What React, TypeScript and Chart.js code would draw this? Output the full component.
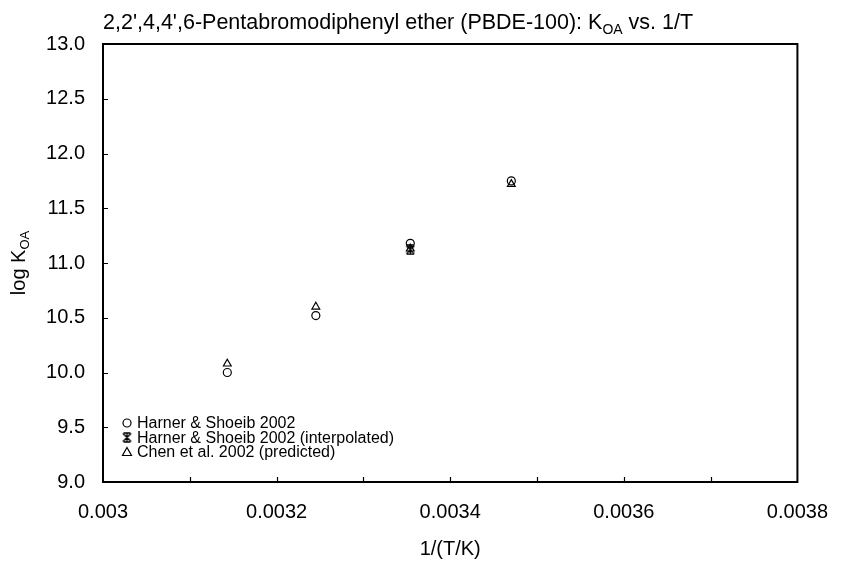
import React, { useEffect, useRef } from "react";
import { Chart, registerables } from "chart.js";

Chart.register(...registerables);

// ---- Data ----
const invT = [0.0031432, 0.0032452, 0.003354, 0.0034704];
const harnerLogKoa = [10.0, 10.52, 11.18, 11.75];
const interpInvT = [0.003354];
const interpLogKoa = [11.12];
const chenLogKoa = [10.08, 10.6, 11.13, 11.72];

const seriesNames = [
  "Harner & Shoeib 2002",
  "Harner & Shoeib 2002 (interpolated)",
  "Chen et al. 2002 (predicted)",
];

const xMin = 0.003;
const xMax = 0.0038;
const xStep = 0.0002;
const xMinorStep = 0.0001;
const yMin = 9.0;
const yMax = 13.0;
const yStep = 0.5;

const FONT = "'Liberation Sans', Arial, sans-serif";

function makeAsterisk(): HTMLCanvasElement {
  const c = document.createElement("canvas");
  c.width = 11;
  c.height = 11;
  const g = c.getContext("2d")!;
  g.strokeStyle = "#000";
  g.lineWidth = 1.4;
  g.beginPath();
  g.moveTo(1.5, 1.5);
  g.lineTo(9.5, 9.5);
  g.moveTo(9.5, 1.5);
  g.lineTo(1.5, 9.5);
  g.moveTo(5.5, 0.5);
  g.lineTo(5.5, 10.5);
  g.moveTo(2, 1);
  g.lineTo(9, 1);
  g.moveTo(2, 10);
  g.lineTo(9, 10);
  g.stroke();
  return c;
}

function drawMarker(ctx: CanvasRenderingContext2D, kind: number, x: number, y: number, ast: HTMLCanvasElement) {
  ctx.save();
  ctx.strokeStyle = "#000";
  ctx.lineWidth = 1.2;
  if (kind === 0) {
    ctx.beginPath();
    ctx.arc(x, y, 4, 0, Math.PI * 2);
    ctx.stroke();
  } else if (kind === 1) {
    ctx.drawImage(ast, x - ast.width / 2, y - ast.height / 2);
  } else {
    ctx.beginPath();
    ctx.moveTo(x, y - 4.5);
    ctx.lineTo(x + 4.5, y + 3.5);
    ctx.lineTo(x - 4.5, y + 3.5);
    ctx.closePath();
    ctx.stroke();
  }
  ctx.restore();
}

function drawSubText(
  ctx: CanvasRenderingContext2D,
  parts: { t: string; sub?: boolean }[],
  x: number,
  y: number,
  size: number,
  align: "left" | "center"
) {
  const subSize = Math.round(size * 0.66);
  let total = 0;
  const widths = parts.map((p) => {
    ctx.font = `${p.sub ? subSize : size}px ${FONT}`;
    const w = ctx.measureText(p.t).width;
    total += w;
    return w;
  });
  let cx = align === "center" ? x - total / 2 : x;
  parts.forEach((p, i) => {
    ctx.font = `${p.sub ? subSize : size}px ${FONT}`;
    ctx.fillText(p.t, cx, p.sub ? y + size * 0.22 : y);
    cx += widths[i];
  });
}

export default function App() {
  const ref = useRef<HTMLCanvasElement>(null);

  useEffect(() => {
    if (!ref.current) return;
    const ast = makeAsterisk();

    const decorPlugin = {
      id: "decor",
      afterDraw(chart: any) {
        const ctx: CanvasRenderingContext2D = chart.ctx;
        const a = chart.chartArea;
        const xs = chart.scales.x;
        const ys = chart.scales.y;
        ctx.save();
        // frame
        ctx.strokeStyle = "#000";
        ctx.lineWidth = 2;
        ctx.strokeRect(a.left, a.top, a.right - a.left, a.bottom - a.top);
        // minor ticks (inside)
        ctx.lineWidth = 1.2;
        ctx.beginPath();
        for (let v = xMin + xMinorStep; v < xMax - 1e-9; v += xMinorStep) {
          const px = Math.round(xs.getPixelForValue(v)) + 0.5;
          ctx.moveTo(px, a.bottom);
          ctx.lineTo(px, a.bottom - 5);
        }
        for (let v = yMin + yStep; v < yMax - 1e-9; v += yStep) {
          const py = Math.round(ys.getPixelForValue(v)) + 0.5;
          ctx.moveTo(a.left, py);
          ctx.lineTo(a.left + 5, py);
        }
        ctx.stroke();

        ctx.fillStyle = "#000";
        // title
        ctx.textBaseline = "alphabetic";
        drawSubText(
          ctx,
          [
            { t: "2,2',4,4',6-Pentabromodiphenyl ether (PBDE-100): K" },
            { t: "OA", sub: true },
            { t: " vs. 1/T" },
          ],
          a.left,
          29,
          21.5,
          "left"
        );
        // x axis title
        drawSubText(ctx, [{ t: "1/(T/K)" }], (a.left + a.right) / 2, 555, 20, "center");
        // y axis title
        ctx.save();
        ctx.translate(25, (a.top + a.bottom) / 2);
        ctx.rotate(-Math.PI / 2);
        drawSubText(ctx, [{ t: "log K" }, { t: "OA", sub: true }], 0, 0, 20, "center");
        ctx.restore();

        // legend
        const rowsY = [423, 437.5, 452];
        ctx.textBaseline = "middle";
        seriesNames.forEach((name, i) => {
          drawMarker(ctx, i, a.left + 24, rowsY[i], ast);
          ctx.font = `16px ${FONT}`;
          ctx.fillText(name, a.left + 34, rowsY[i] + 1);
        });
        ctx.restore();
      },
    };

    const chart = new Chart(ref.current, {
      type: "scatter",
      data: {
        datasets: [
          {
            label: seriesNames[0],
            data: invT.map((x, i) => ({ x, y: harnerLogKoa[i] })),
            pointStyle: "circle",
            pointRadius: 4,
            borderColor: "#000",
            backgroundColor: "rgba(0,0,0,0)",
            borderWidth: 1.2,
          },
          {
            label: seriesNames[1],
            data: interpInvT.map((x, i) => ({ x, y: interpLogKoa[i] })),
            pointStyle: ast as any,
            pointRadius: 5,
            borderColor: "#000",
            backgroundColor: "#000",
          },
          {
            label: seriesNames[2],
            data: invT.map((x, i) => ({ x, y: chenLogKoa[i] })),
            pointStyle: "triangle",
            pointRadius: 4.5,
            borderColor: "#000",
            backgroundColor: "rgba(0,0,0,0)",
            borderWidth: 1.2,
          },
        ],
      },
      options: {
        responsive: false,
        animation: false,
        layout: { padding: { top: 44, right: 39, left: 0, bottom: 0 } },
        plugins: {
          legend: { display: false },
          title: { display: false },
          tooltip: { enabled: false },
        },
        scales: {
          x: {
            type: "linear",
            min: xMin,
            max: xMax,
            grid: { display: false, drawTicks: false },
            border: { display: false },
            ticks: {
              stepSize: xStep,
              padding: 18,
              color: "#000",
              font: { family: FONT, size: 20 },
              maxRotation: 0,
              callback: (v: any) => Number(Number(v).toFixed(4)).toString(),
            },
            afterFit: (s: any) => {
              s.height = 79;
            },
          },
          y: {
            type: "linear",
            min: yMin,
            max: yMax,
            grid: { display: false, drawTicks: false },
            border: { display: false },
            ticks: {
              stepSize: yStep,
              padding: 18,
              color: "#000",
              font: { family: FONT, size: 20 },
              callback: (v: any) => Number(v).toFixed(1),
            },
            afterFit: (s: any) => {
              s.width = 103;
            },
          },
        },
      },
      plugins: [decorPlugin],
    });
    return () => chart.destroy();
  }, []);

  return (
    <canvas
      ref={ref}
      width={846}
      height={561}
      style={{ position: "fixed", left: 0, top: 0, width: 846, height: 561, display: "block", background: "#fff" }}
    />
  );
}
